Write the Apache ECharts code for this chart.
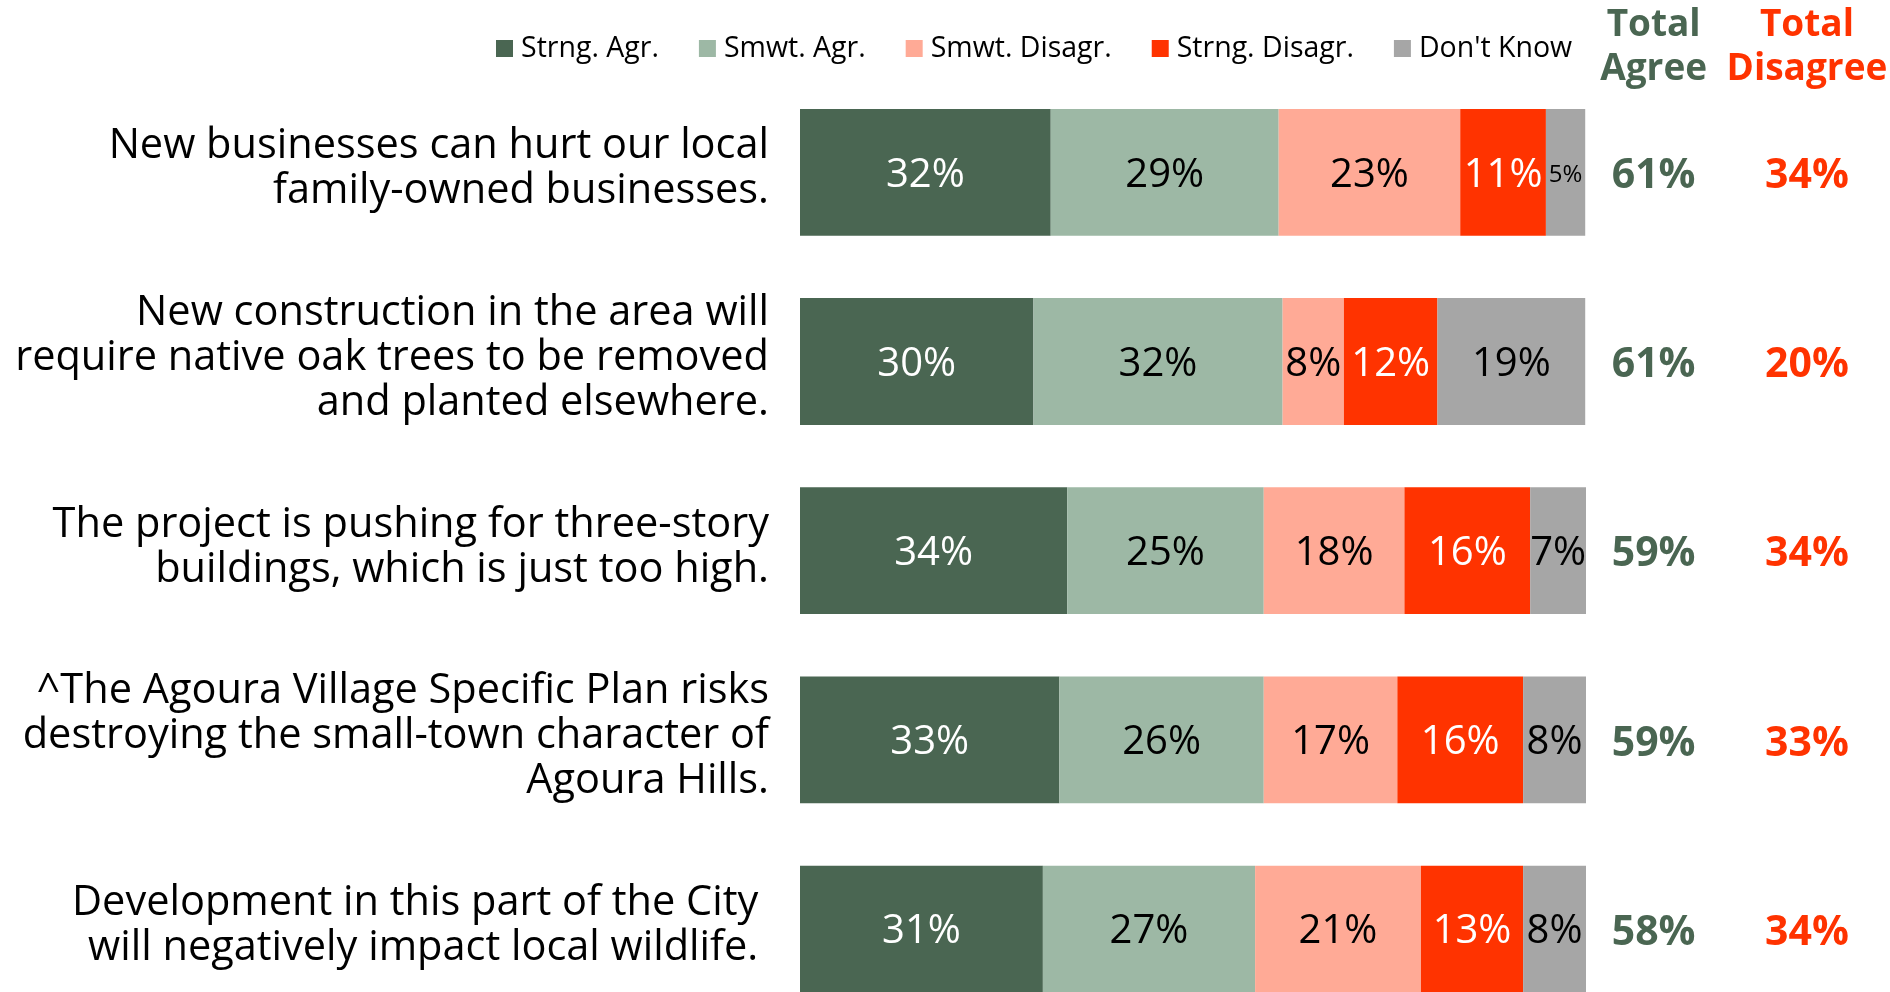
<!DOCTYPE html>
<html><head><meta charset="utf-8">
<script src="https://cdn.jsdelivr.net/npm/echarts@6/dist/echarts.min.js"></script>
<style>html,body{margin:0;padding:0;background:#fff;overflow:hidden}#c{width:1890px;height:1030px}</style>
</head><body><div id="c"></div>
<script>
const categories = [
  "New businesses can hurt our local\nfamily-owned businesses.",
  "New construction in the area will\nrequire native oak trees to be removed\nand planted elsewhere.",
  "The project is pushing for three-story\nbuildings, which is just too high.",
  "^The Agoura Village Specific Plan risks\ndestroying the small-town character of\nAgoura Hills.",
  "Development in this part of the City \nwill negatively impact local wildlife. "
];
const seriesNames = ["Strng. Agr.", "Smwt. Agr.", "Smwt. Disagr.", "Strng. Disagr.", "Don't Know"];
const strongAgree    = [31.9, 29.7, 34.0, 33.0, 30.9];
const smwtAgree      = [29.0, 31.7, 25.0, 26.0, 27.0];
const smwtDisagree   = [23.1, 7.8, 17.9, 17.0, 21.1];
const strongDisagree = [10.9, 11.9, 16.0, 16.0, 13.0];
const dontKnow       = [5.0, 18.8, 7.1, 8.0, 8.0];
const totalColumns   = ["Total\nAgree", "Total\nDisagree"];
const totalAgree     = [61, 61, 59, 59, 58];
const totalDisagree  = [34, 20, 34, 33, 34];

const FONT = "'Open Sans', sans-serif";
const colors = ["#4A6652", "#9DB8A5", "#FFAA96", "#FF3300", "#A6A6A6"];
const labelColors = ["#FFFFFF", "#000000", "#000000", "#FFFFFF", "#000000"];
const values = [strongAgree, smwtAgree, smwtDisagree, strongDisagree, dontKnow];

const gridTop = 77.7, gridH = 946;

const barSeries = seriesNames.map((name, k) => ({
  name, type: 'bar', stack: 'all', xAxisIndex: 0, yAxisIndex: 0,
  data: values[k], barCategoryGap: '33%',
  itemStyle: { color: colors[k] },
  label: {
    show: true, position: 'inside', color: labelColors[k], offset: [0, 3],
    fontFamily: FONT, fontSize: 40,
    formatter: p => p.value < 6 ? '{s|' + Math.round(p.value) + '%}' : Math.round(p.value) + '%',
    rich: { s: { fontSize: 24, fontFamily: FONT, color: labelColors[k] } }
  },
  emphasis: { disabled: true }
}));

const totalColors = ["#4A6652", "#FF3300"];
const totalSeries = [totalAgree, totalDisagree].map((arr, c) => ({
  type: 'scatter', xAxisIndex: 1, yAxisIndex: 1, symbolSize: 0,
  data: arr.map((v, i) => [c, i, v]),
  itemStyle: { opacity: 1, color: totalColors[c] },
  label: {
    show: true, position: 'inside', color: totalColors[c], opacity: 1, offset: [0, 4],
    fontFamily: FONT, fontSize: 41, fontWeight: 'bold',
    formatter: p => p.value[2] + '%'
  },
  emphasis: { disabled: true }, silent: true
}));

const chart = echarts.init(document.getElementById('c'), null, { renderer: 'canvas' });
chart.setOption({
  animation: false,
  backgroundColor: '#fff',
  legend: {
    data: seriesNames, left: 491, top: 29, itemWidth: 17, itemHeight: 17, itemGap: 40,
    icon: 'rect', textStyle: { fontFamily: FONT, fontSize: 28.5, color: '#000', padding: [0, 0, 0, 3] },
    selectedMode: false
  },
  grid: [
    { left: 800, width: 786, top: gridTop, height: gridH },
    { left: 1577, width: 308, top: gridTop, height: gridH }
  ],
  xAxis: [
    { type: 'value', gridIndex: 0, min: 0, max: 100, show: false },
    { type: 'category', gridIndex: 1, data: totalColumns, position: 'top',
      axisLine: { show: false }, axisTick: { show: false }, splitLine: { show: false },
      axisLabel: { show: true, interval: 0, margin: 30, verticalAlign: 'middle',
        fontFamily: FONT, fontSize: 37, fontWeight: 'bold', lineHeight: 44,
        color: (v, i) => totalColors[i] } }
  ],
  yAxis: [
    { type: 'category', gridIndex: 0, data: categories, inverse: true,
      axisLine: { show: false }, axisTick: { show: false },
      axisLabel: { margin: 31, fontFamily: FONT, fontSize: 41.5, lineHeight: 45, color: '#000',
        align: 'right',
        formatter: v => v.split('\n').map(l => '{t|' + l + '}').join('\n') + '\n{g|}',
        rich: {
          t: { fontFamily: FONT, fontSize: 41.5, lineHeight: 45, color: '#000', align: 'right' },
          g: { fontSize: 4, lineHeight: 7 }
        } } },
    { type: 'category', gridIndex: 1, data: categories, inverse: true, show: false }
  ],
  series: [...barSeries, ...totalSeries]
});
</script></body></html>
